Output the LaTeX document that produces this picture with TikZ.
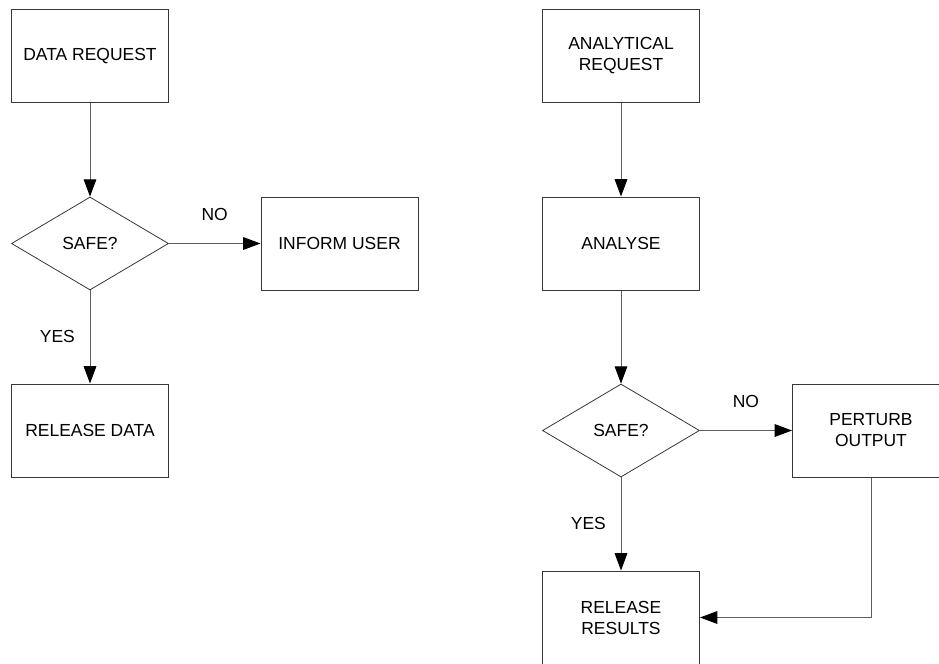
\documentclass[tikz,border=0pt]{standalone}
\usepackage{fontspec}
\setmainfont{Liberation Sans}
\usetikzlibrary{shapes.geometric,arrows.meta,positioning}
\definecolor{linegray}{RGB}{95,95,95}
\definecolor{boxgray}{RGB}{55,55,55}

\begin{document}
\begin{tikzpicture}[
  x=0.75pt, y=-0.75pt,
  font=\fontsize{13.1}{15.75}\selectfont,
  every edge/.style={draw=linegray,line width=0.75pt,-{Triangle[length=13pt,width=9.5pt,color=black]}},
  flow/.style={draw=linegray,line width=0.75pt,-{Triangle[length=13pt,width=9.5pt,color=black]}},
  proc/.style={
    rectangle, draw=boxgray, line width=0.75pt, align=center,
    inner sep=0pt, minimum width=117.75pt, minimum height=69.75pt,
  },
  decide/.style={diamond, draw=boxgray, line width=0.6pt, aspect=1.69,
                 inner sep=0pt, minimum width=117.75pt, minimum height=69.75pt},
  lbl/.style={inner sep=0pt},
]
  \useasboundingbox (0,0) rectangle (939,664);
  % data request branch
  \node[proc] (datareq) at (90,56) {DATA REQUEST};
  \node[decide] (safe-a) at (90,243.5) {SAFE?};
  \node[proc] (inform) at (339.5,243.5) {INFORM USER};
  \node[proc] (reldata) at (90,430.5) {RELEASE DATA};
  % analytical request branch
  \node[proc] (anareq) at (621,56) {ANALYTICAL\\REQUEST};
  \node[proc] (analyse) at (621,243.5) {ANALYSE};
  \node[decide] (safe-b) at (621,430.5) {SAFE?};
  \node[proc] (perturb) at (871,430.5) {PERTURB\\OUTPUT};
  \node[proc] (relres) at (621,617.5) {RELEASE\\RESULTS};
  % connectors
  \draw (datareq) edge (safe-a);
  \draw (safe-a) edge node[lbl,above=17pt]{NO} (inform);
  \draw (safe-a) edge node[lbl,left=11pt]{YES} (reldata);
  \draw (anareq) edge (analyse);
  \draw (analyse) edge (safe-b);
  \draw (safe-b) edge node[lbl,above=17pt]{NO} (perturb);
  \draw (safe-b) edge node[lbl,left=11pt]{YES} (relres);
  \draw[flow] (perturb.south) |- (relres.east);
\end{tikzpicture}
\end{document}
